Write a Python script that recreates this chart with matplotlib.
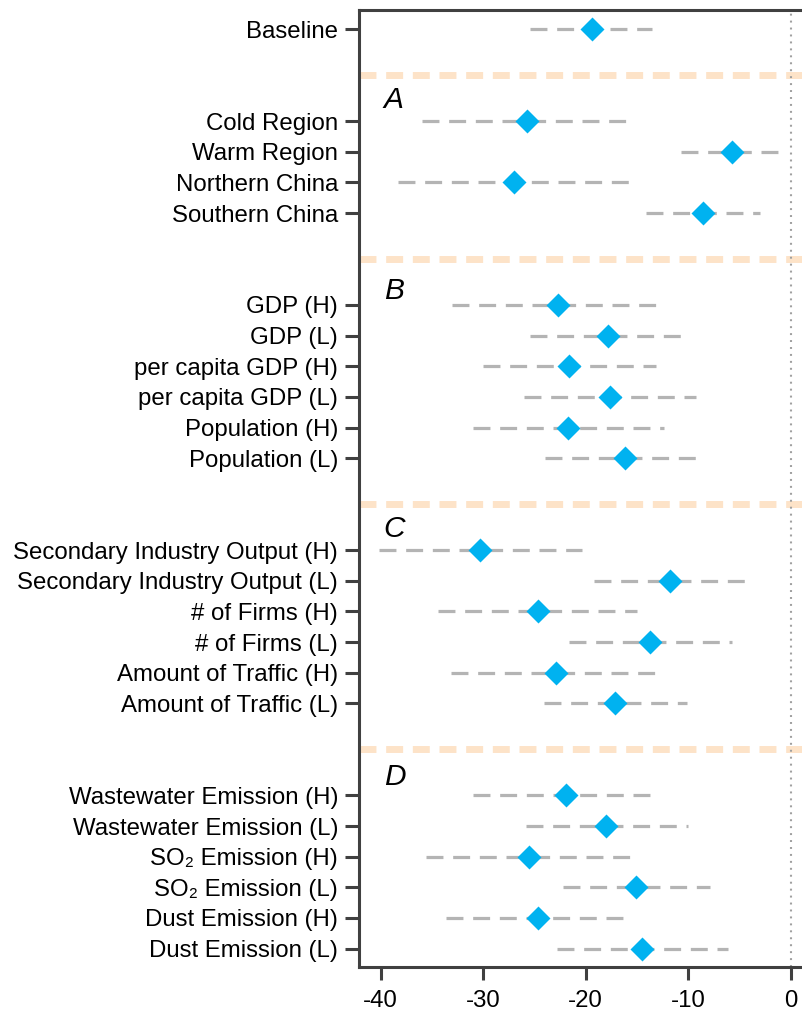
import matplotlib
matplotlib.use("Agg")
import matplotlib.pyplot as plt

plt.rcParams['font.family'] = ['Liberation Sans', 'DejaVu Sans']
plt.rcParams['lines.scale_dashes'] = False

# groups of estimates: (panel letter, labels, point estimate, lower, upper)
baseLabels = ["Baseline"]
baseEst = [-19.4]
baseLo = [-25.4]
baseHi = [-13.5]

aLabels = ["Cold Region", "Warm Region", "Northern China", "Southern China"]
aEst = [-25.7, -5.7, -27.0, -8.6]
aLo = [-36.0, -10.7, -38.3, -14.1]
aHi = [-16.0, -1.1, -15.7, -3.0]

bLabels = ["GDP (H)", "GDP (L)", "per capita GDP (H)", "per capita GDP (L)",
           "Population (H)", "Population (L)"]
bEst = [-22.7, -17.8, -21.6, -17.6, -21.7, -16.2]
bLo = [-33.0, -25.4, -30.0, -26.0, -31.0, -24.0]
bHi = [-12.9, -10.5, -13.1, -9.2, -12.4, -9.2]

cLabels = ["Secondary Industry Output (H)", "Secondary Industry Output (L)",
           "# of Firms (H)", "# of Firms (L)",
           "Amount of Traffic (H)", "Amount of Traffic (L)"]
cEst = [-30.3, -11.8, -24.7, -13.7, -22.9, -17.1]
cLo = [-40.2, -19.2, -34.4, -21.6, -33.1, -24.1]
cHi = [-20.4, -4.4, -15.0, -5.7, -13.1, -10.1]

dLabels = ["Wastewater Emission (H)", "Wastewater Emission (L)",
           "SO\u2082 Emission (H)", "SO\u2082 Emission (L)",
           "Dust Emission (H)", "Dust Emission (L)"]
dEst = [-21.9, -18.0, -25.5, -15.1, -24.7, -14.5]
dLo = [-31.0, -25.8, -35.6, -22.2, -33.6, -22.8]
dHi = [-13.6, -10.0, -15.6, -7.9, -16.2, -6.1]

groups = [
    ("", baseLabels, baseEst, baseLo, baseHi),
    ("A", aLabels, aEst, aLo, aHi),
    ("B", bLabels, bEst, bLo, bHi),
    ("C", cLabels, cEst, cLo, cHi),
    ("D", dLabels, dEst, dLo, dHi),
]

fig = plt.figure(figsize=(8.03, 10.11), dpi=100)
ax = fig.add_axes([0.447, 0.0438, 0.553, 0.9462])

gray = "#b4b4b4"
blue = "#00b2f0"
peach = "#fde3c8"
dark = "#404040"

# lay rows out: each group after the first starts 3 rows below the previous end
rowPos = []
rowLabels = []
sepPos = []
panelPos = []
y = 0
for i, (letter, labels, est, lo, hi) in enumerate(groups):
    if i > 0:
        sepPos.append(y + 1.5)
        y += 3
        panelPos.append((letter, y))
    for j in range(len(labels)):
        ax.plot([lo[j], hi[j]], [y, y], color=gray, lw=2.3, dashes=(12.2, 7.0),
                solid_capstyle='butt', dash_capstyle='butt', zorder=2)
        ax.plot(est[j], y, marker='D', ms=11.9, color=blue, mec='none', zorder=3)
        rowPos.append(y)
        rowLabels.append(labels[j])
        y += 1
    y -= 1

for s in sepPos:
    ax.axhline(s, color=peach, lw=5, dashes=(12.2, 7.0), dash_capstyle='butt', zorder=1)

# small offsets so the letters sit above the first row of each panel
letterShift = {"A": -0.68, "B": -0.45, "C": -0.7, "D": -0.6}
for letter, yy in panelPos:
    ax.text(-39.7, yy + letterShift[letter], letter, fontsize=21.5, style='italic',
            va='center', ha='left')

ax.axvline(0, color="#a0a0a0", lw=1.5, dashes=(1.4, 3.6), zorder=1)

ax.set_xlim(-42.12, 1.2)
ax.set_ylim(30.59, -0.62)
ax.set_yticks(rowPos)
ax.set_yticklabels(rowLabels)
ax.set_xticks([-40, -30, -20, -10, 0])
ax.set_xticklabels(["-40", "-30", "-20", "-10", "0"])

ax.tick_params(axis='y', length=10, width=2.2, color=dark, labelsize=17.3, pad=5)
ax.tick_params(axis='x', length=9, width=2.2, color=dark, labelsize=17.3, pad=8)

for side in ['left', 'top', 'bottom']:
    ax.spines[side].set_color(dark)
    ax.spines[side].set_linewidth(2.2)
ax.spines['right'].set_visible(False)

plt.savefig("out.png", dpi=100)
